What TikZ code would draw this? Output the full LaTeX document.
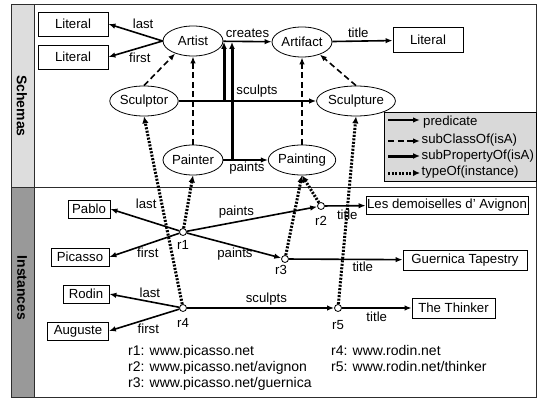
\documentclass[tikz,border=0pt]{standalone}
\usepackage{fontspec}
\setmainfont{Liberation Sans}
\usetikzlibrary{arrows.meta,shapes.geometric}
\definecolor{bandlight}{RGB}{221,221,221}
\definecolor{banddark}{RGB}{153,153,153}
\definecolor{legfill}{RGB}{217,217,217}
\definecolor{framec}{RGB}{45,45,45}
\begin{document}
\begin{tikzpicture}[x=1pt,y=-1pt,
  every node/.style={font=\fontsize{13.2}{15}\selectfont},
  cls/.style={draw, ellipse, minimum width=60pt, minimum height=30pt, inner sep=0pt, line width=0.8pt},
  lit/.style={draw, rectangle, minimum height=18pt, inner sep=0pt, line width=0.8pt},
  res/.style={draw, circle, fill=white, minimum size=7pt, inner sep=0pt, line width=0.8pt},
  pred/.style={line width=1.6pt, -{Latex[length=7pt,width=5.5pt]}},
  subcls/.style={line width=1.6pt, dash pattern=on 6pt off 3.5pt, -{Latex[length=7pt,width=5.5pt]}},
  subprop/.style={line width=3pt, -{Latex[length=7pt,width=6pt]}},
  typeof/.style={line width=3pt, dash pattern=on 2pt off 1.5pt, -{Latex[length=7pt,width=6.5pt]}},
  elab/.style={inner sep=1pt},
  rlab/.style={elab},
  band/.style={rotate=-90, font=\bfseries\fontsize{14}{16}\selectfont},
  legtxt/.style={anchor=west, inner sep=0pt},
  uri/.style={anchor=west, inner sep=0pt, font=\fontsize{14}{16}\selectfont},
  ]
\useasboundingbox (0,0) rectangle (537,398);
% frame
\fill[bandlight] (11,5) rectangle (34,187);
\fill[banddark] (11,187) rectangle (34,397);
\draw[framec, line width=1pt] (11,5) rectangle (536,397);
\draw[framec, line width=1pt] (34,5) -- (34,397);
\draw[framec, line width=1pt] (11,187) -- (536,187);
\node[band] (schemas) at (22,106) {Schemas};
\node[band] (instances) at (22,288) {Instances};

% legend
\node[draw, fill=legfill, line width=0.8pt, minimum width=152pt, minimum height=69pt, inner sep=0pt, anchor=north west] (legend) at (384,112) {};
\coordinate (l1a) at (388,120); \coordinate (l1b) at (420,120);
\coordinate (l2a) at (388,141); \coordinate (l2b) at (420,141);
\coordinate (l3a) at (388,156); \coordinate (l3b) at (420,156);
\coordinate (l4a) at (388,173); \coordinate (l4b) at (420,173);
\draw[pred] (l1a) -- (l1b);
\draw[subcls] (l2a) -- (l2b);
\draw[subprop] (l3a) -- (l3b);
\draw[typeof] (l4a) -- (l4b);
\node[legtxt] (t1) at (423,122) {predicate};
\node[legtxt] (t2) at (421.5,140.5) {subClassOf(isA)};
\node[legtxt] (t3) at (421.5,156) {subPropertyOf(isA)};
\node[legtxt] (t4) at (421.5,172) {typeOf(instance)};

% schema nodes
\node[cls] (artist) at (193,41) {Artist};
\node[cls] (artifact) at (302,42) {Artifact};
\node[cls] (sculptor) at (144,101) {Sculptor};
\node[cls] (sculpture) at (356,101) {Sculpture};
\node[cls] (painter) at (193,160) {Painter};
\node[cls] (painting) at (302,160) {Painting};
\node[lit, minimum width=70pt, minimum height=24pt] (lit1) at (73,24) {Literal};
\node[lit, minimum width=70pt, minimum height=24pt] (lit2) at (73,57) {Literal};
\node[lit, minimum width=70pt, minimum height=25pt] (lit3) at (428,40) {Literal};

% schema predicates
\draw[pred] (artist.west) -- node[elab, pos=0.36, above=4pt] {last} (lit1.east);
\draw[pred] (artist.west) -- node[elab, pos=0.42, below=3.5pt] {first} (lit2.east);
\draw[pred] (artist) -- node[elab, pos=0.5, above=2pt] {creates} (artifact);
\draw[pred] (artifact) -- node[elab, pos=0.43, above=2pt] {title} (lit3);
\draw[pred] (sculptor) -- node[elab, pos=0.57, above=1.5pt] {sculpts} (sculpture);
\draw[pred] (painter) -- node[elab, pos=0.53, below=0pt] {paints} (painting);

% subPropertyOf
\coordinate (spA) at (224,101); \coordinate (spB) at (224,42);
\coordinate (ppA) at (232,160); \coordinate (ppB) at (232,42);
\draw[subprop] (spA) -- (spB);
\draw[subprop] (ppA) -- (ppB);

% subClassOf
\draw[subcls] (sculptor.north) -- (artist.-145);
\draw[subcls] (painter) -- (artist);
\draw[subcls] (painting) -- (artifact);
\draw[subcls] (sculpture.north) -- (artifact.-35);

% instances
\node[lit, minimum width=42pt] (pablo) at (89,209) {Pablo};
\node[lit, minimum width=58pt] (picasso) at (80,257) {Picasso};
\node[lit, minimum width=46pt] (rodin) at (86,294) {Rodin};
\node[lit, minimum width=61pt] (auguste) at (78,331) {Auguste};
\node[lit, minimum width=162pt] (avignon) at (447,205) {Les demoiselles d' Avignon};
\node[lit, minimum width=124pt, minimum height=20pt] (guernica) at (465,260) {Guernica Tapestry};
\node[lit, minimum width=83pt, minimum height=20pt] (thinker) at (453.5,308) {The Thinker};

\node[res, label={[rlab, label distance=3.5pt]below:r1}] (r1) at (183,232) {};
\node[res, label={[rlab, label distance=5.5pt]below:r2}] (r2) at (321,206) {};
\node[res, label={[rlab, label distance=1.5pt, xshift=-4pt]below:r3}] (r3) at (285,259) {};
\node[res, label={[rlab, label distance=5.5pt]below:r4}] (r4) at (183,308) {};
\node[res, label={[rlab, label distance=7.5pt]below:r5}] (r5) at (338,308) {};

\draw[pred] (r1) -- node[elab, pos=0.48, above=9.5pt] {last} (pablo.east);
\draw[pred] (r1) -- node[elab, pos=0.45, below=2pt] {first} (picasso.east);
\draw[pred] (r1) -- node[elab, pos=0.38, above=1.5pt] {paints} (r2);
\draw[pred] (r1) -- node[elab, pos=0.51, below=0.5pt] {paints} (r3);
\draw[pred] (r2) -- node[elab, pos=0.55, below=2pt] {title} (avignon);
\draw[pred] (r3) -- node[elab, pos=0.65, below=1pt] {title} (guernica);
\draw[pred] (r4) -- node[elab, pos=0.42, above=2pt] {last} (rodin.east);
\draw[pred] (r4) -- node[elab, pos=0.44, below=3pt] {first} (auguste.east);
\draw[pred] (r4) -- node[elab, pos=0.54, above=0.5pt] {sculpts} (r5);
\draw[pred] (r5) -- node[elab, pos=0.5, below=2pt] {title} (thinker);

% typeOf
\draw[typeof] (r1) -- (painter.south);
\draw[typeof] (r4) -- (sculptor.south);
\draw[typeof] (r2) -- (painting.south);
\draw[typeof] (r3) -- (painting.south);
\draw[typeof] (r5) -- (sculpture.south);

% URIs
\node[uri] (u1) at (128,352) {r1: www.picasso.net};
\node[uri] (u2) at (128,368) {r2: www.picasso.net/avignon};
\node[uri] (u3) at (128,384) {r3: www.picasso.net/guernica};
\node[uri] (u4) at (331,350) {r4: www.rodin.net};
\node[uri] (u5) at (331,366) {r5: www.rodin.net/thinker};
\end{tikzpicture}
\end{document}
